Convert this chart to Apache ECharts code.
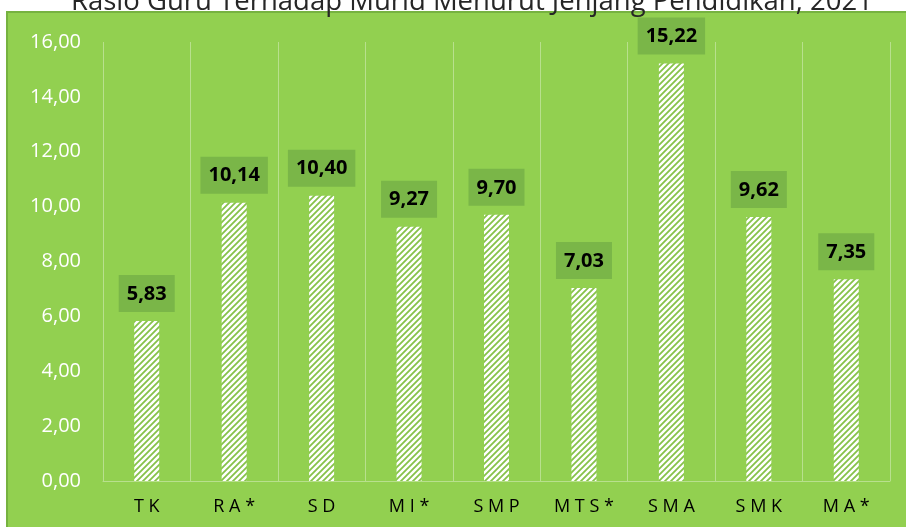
<!DOCTYPE html>
<html>
<head>
    <meta charset="utf-8">
    <title>Rasio Guru Terhadap Murid</title>
    <script src="https://cdn.jsdelivr.net/npm/echarts@6/dist/echarts.min.js"></script>
    <style>
        html, body { margin: 0; padding: 0; background: #fff; }
    </style>
</head>
<body>
    <div id="main" style="width: 906px;height: 527px;"></div>
    <script type="text/javascript">
        // data
        var jenjang = ['TK', 'RA*', 'SD', 'MI*', 'SMP', 'MTS*', 'SMA', 'SMK', 'MA*'];
        var rasio = [5.83, 10.14, 10.40, 9.27, 9.70, 7.03, 15.22, 9.62, 7.35];
        var judul = 'Rasio Guru Terhadap Murid Menurut Jenjang Pendidikan, 2021';

        function koma(v) {
            return v.toFixed(2).replace('.', ',');
        }

        // pola arsir diagonal untuk batang
        function arsir() {
            var c = document.createElement('canvas');
            c.width = 6;
            c.height = 6;
            var ctx = c.getContext('2d');
            ctx.fillStyle = '#ffffff';
            ctx.fillRect(0, 0, 6, 6);
            ctx.strokeStyle = '#86c24a';
            ctx.lineWidth = 1.8;
            ctx.beginPath();
            ctx.moveTo(0, 6); ctx.lineTo(6, 0);
            ctx.moveTo(-3, 3); ctx.lineTo(3, -3);
            ctx.moveTo(3, 9); ctx.lineTo(9, 3);
            ctx.stroke();
            return c;
        }

        var myChart = echarts.init(document.getElementById('main'));

        var option = {
            backgroundColor: '#ffffff',
            animation: false,
            title: {
                text: judul,
                left: 66,
                top: -17,
                textStyle: {
                    fontFamily: 'Open Sans',
                    fontWeight: 'normal',
                    fontSize: 27.5,
                    color: '#262626'
                }
            },
            graphic: [{
                type: 'rect',
                z: -10,
                shape: { x: 7, y: 12, width: 910, height: 530 },
                style: { fill: '#92d050', stroke: '#76b240', lineWidth: 2 }
            }],
            grid: { left: 103, right: 16, top: 42, bottom: 46 },
            xAxis: {
                type: 'category',
                data: jenjang,
                axisLine: { lineStyle: { color: 'rgba(255,255,255,0.35)', width: 1 } },
                axisTick: { show: false },
                splitLine: { show: true, lineStyle: { color: 'rgba(255,255,255,0.35)', width: 1 } },
                axisLabel: {
                    margin: 17,
                    fontFamily: 'Open Sans',
                    fontSize: 18,
                    color: '#000000',
                    formatter: function (v) { return v.split('').join(' '); }
                }
            },
            yAxis: {
                type: 'value',
                min: 0,
                max: 16,
                interval: 2,
                axisLine: { show: false },
                axisTick: { show: false },
                splitLine: { show: false },
                axisLabel: {
                    margin: 22,
                    fontFamily: 'Open Sans',
                    fontSize: 20,
                    color: '#ffffff',
                    formatter: function (v) { return koma(v); }
                }
            },
            series: [{
                type: 'bar',
                data: rasio,
                barWidth: 25,
                itemStyle: { color: { image: arsir(), repeat: 'repeat' } },
                label: {
                    show: true,
                    position: 'top',
                    distance: 9,
                    fontFamily: 'Open Sans',
                    fontWeight: 'bold',
                    fontSize: 20,
                    color: '#000000',
                    backgroundColor: '#7ab648',
                    padding: [9, 8, 8, 8],
                    formatter: function (p) { return koma(p.value); }
                }
            }]
        };

        myChart.setOption(option);
        window.onresize = myChart.resize;
    </script>
</body>
</html>
